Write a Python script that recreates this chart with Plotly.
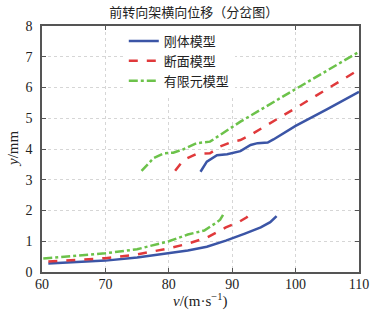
import plotly.graph_objects as go

# Data
names = ["刚体模型", "断面模型", "有限元模型"]

rigid_v_low = [61, 65, 70, 75, 80, 83, 86, 89, 92, 94.5, 96, 97]
rigid_y_low = [0.28, 0.32, 0.37, 0.47, 0.61, 0.70, 0.82, 1.02, 1.25, 1.45, 1.62, 1.82]
rigid_v_up = [85.0, 86.0, 87.6, 89.2, 91.3, 92.9, 94.0, 95.6, 96.5, 100, 105, 110]
rigid_y_up = [3.26, 3.59, 3.80, 3.83, 3.93, 4.13, 4.19, 4.21, 4.31, 4.75, 5.30, 5.86]

sect_v_low = [61, 65, 70, 75, 80, 83, 86, 89, 91, 92.3, 93]
sect_y_low = [0.34, 0.38, 0.45, 0.57, 0.77, 0.92, 1.12, 1.45, 1.62, 1.78, 1.93]
sect_v_up = [81.0, 82.3, 84.4, 86.5, 88.1, 90, 91.3, 92.9, 100, 105, 110]
sect_y_up = [3.29, 3.64, 3.84, 3.86, 4.08, 4.24, 4.29, 4.46, 5.33, 5.95, 6.58]

fem_v_low = [60.2, 65, 70, 75, 80, 83, 85.6, 87.3, 88.1, 88.7]
fem_y_low = [0.44, 0.52, 0.61, 0.74, 1.00, 1.22, 1.35, 1.58, 1.70, 1.91]
fem_v_up = [75.7, 77.6, 79.2, 80.7, 82.3, 84.4, 86.5, 88.1, 90.2, 91.3, 100, 105, 110]
fem_y_up = [3.29, 3.70, 3.86, 3.88, 3.99, 4.19, 4.24, 4.46, 4.73, 4.89, 5.95, 6.55, 7.16]

x_ticks = [60, 70, 80, 90, 100, 110]
y_ticks = [0, 1, 2, 3, 4, 5, 6, 7, 8]

series = [
    (names[0], rigid_v_low, rigid_y_low, rigid_v_up, rigid_y_up, "#3b55a6", "solid"),
    (names[1], sect_v_low, sect_y_low, sect_v_up, sect_y_up, "#e0393b", "dash"),
    (names[2], fem_v_low, fem_y_low, fem_v_up, fem_y_up, "#6cc24a", "dashdot"),
]

fig = go.Figure()
for name, vl, yl, vu, yu, col, dash in series:
    fig.add_trace(go.Scatter(
        x=list(vl) + [None] + list(vu),
        y=list(yl) + [None] + list(yu),
        mode="lines", name=name, connectgaps=False,
        line=dict(color=col, width=2.5, dash=dash),
    ))

serif = "Liberation Serif, Times New Roman, serif"
txt = "#222222"
axis_common = dict(
    showline=True, linecolor="#555555", linewidth=1.5, mirror="ticks",
    ticks="inside", ticklen=4, tickcolor="#555555",
    showgrid=True, gridcolor="#d6d6d6", griddash="dot", gridwidth=1,
    zeroline=False, automargin=False,
    tickfont=dict(family=serif, size=14, color=txt),
)

fig.update_layout(
    width=380, height=315,
    margin=dict(l=42, r=21, t=26, b=43),
    paper_bgcolor="white", plot_bgcolor="white",
    title=dict(text="前转向架横向位移（分岔图）", x=0.51, xanchor="center",
               y=0.962, yanchor="middle",
               font=dict(family="Noto Sans CJK SC", size=13, color=txt)),
    xaxis=dict(range=[60, 110], tickvals=x_ticks, ticklabelstandoff=-2, **axis_common),
    yaxis=dict(range=[0, 8], tickvals=y_ticks, ticklabelstandoff=5, **axis_common),
    legend=dict(x=0.258, y=1.0, xanchor="left", yanchor="top",
                bgcolor="rgba(255,255,255,1)", borderwidth=0,
                font=dict(family="Noto Sans CJK SC", size=13, color=txt),
                tracegroupgap=0, itemwidth=30),
    showlegend=True,
    annotations=[
        dict(text="<i>v</i>/(m·s<sup>−1</sup>)", xref="paper", yref="paper",
             x=0.5, y=0, xanchor="center", yanchor="middle", yshift=-28,
             showarrow=False, font=dict(family=serif, size=15, color=txt)),
        dict(text="<i>y</i>/mm", xref="paper", yref="paper",
             x=0, y=0.5, xanchor="center", yanchor="middle", xshift=-29,
             textangle=-90, showarrow=False,
             font=dict(family=serif, size=15, color=txt)),
    ],
)

fig.write_html("out.html", config={"displayModeBar": False},
               post_script="document.body.style.margin='0';")
